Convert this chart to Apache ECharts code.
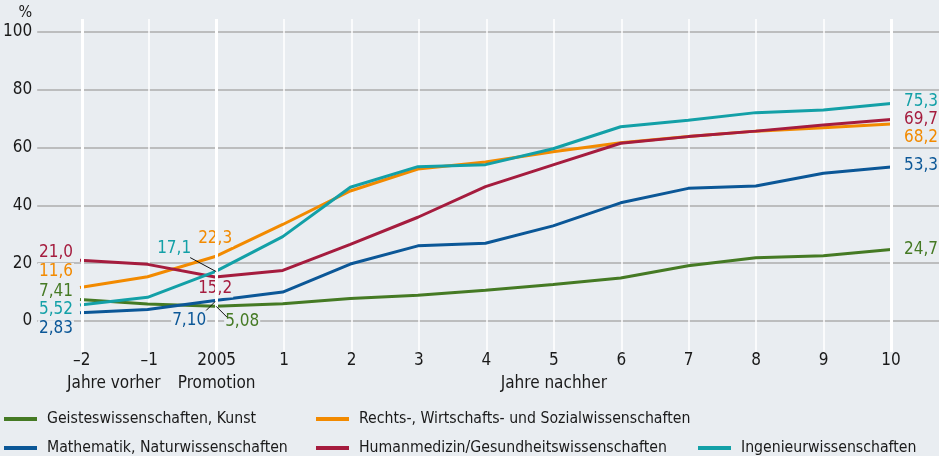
<!DOCTYPE html>
<html>
<head>
<meta charset="utf-8">
<script src="https://cdn.jsdelivr.net/npm/echarts@6.0.0/dist/echarts.min.js"></script>
<style>
  html, body { margin: 0; padding: 0; background: #e9edf1; }
  #chart { width: 939px; height: 456px; }
</style>
</head>
<body>
<div id="chart"></div>
<script>
// Jahre relativ zur Promotion (2005)
const categories = ['–2', '–1', '2005', '1', '2', '3', '4', '5', '6', '7', '8', '9', '10']
const subLabels = { '–2': 'Jahre vorher', '2005': 'Promotion', '5': 'Jahre nachher' }
const yTicks = [0, 20, 40, 60, 80, 100]

// Anteile in %
const geistes = [7.41, 5.9, 5.08, 6.0, 7.8, 8.9, 10.6, 12.6, 14.9, 19.1, 21.9, 22.6, 24.7]
const mathe = [2.83, 4.0, 7.10, 10.0, 19.7, 26.0, 26.9, 32.9, 40.9, 45.9, 46.7, 51.1, 53.3]
const rechts = [11.6, 15.3, 22.3, 33.4, 45.0, 52.6, 55.0, 58.6, 61.7, 63.8, 65.7, 66.9, 68.2]
const human = [21.0, 19.6, 15.2, 17.5, 26.5, 35.9, 46.5, 54.0, 61.5, 63.8, 65.7, 67.8, 69.7]
const ingenieur = [5.52, 8.2, 17.1, 29.2, 46.3, 53.4, 54.1, 59.6, 67.2, 69.5, 72.1, 73.0, 75.3]

const FONT = "'Liberation Sans Narrow', 'DejaVu Sans Condensed', sans-serif"
const BG = '#e9edf1'

// Beschriftungsversatz: links, Mitte (2005), rechts; Legendenposition
const seriesDefs = [
  { name: 'Geisteswissenschaften, Kunst', data: geistes, color: '#457a24', left: -8, mid: [27, 15], right: 0, lg: [4, 411] },
  { name: 'Mathematik, Naturwissenschaften', data: mathe, color: '#0b5797', left: 16, mid: [-26, 20], right: -1, lg: [4, 440] },
  { name: 'Rechts-, Wirtschafts- und Sozialwissenschaften', data: rechts, color: '#f28a00', left: -16, mid: [0, -18], right: 14, lg: [316, 411] },
  { name: 'Humanmedizin/Gesundheitswissenschaften', data: human, color: '#a51c3e', left: -8, mid: [0, 12], right: 0, lg: [316, 440] },
  { name: 'Ingenieurwissenschaften', data: ingenieur, color: '#13a0a7', left: 5, mid: [-41, -23], right: -2, lg: [698, 440] }
]

function fmt (v) {
  return v.toPrecision(3).replace('.', ',')
}

function buildData (def) {
  const last = def.data.length - 1
  return def.data.map((v, i) => {
    const base = { color: def.color, fontFamily: FONT, fontSize: 17, backgroundColor: BG, padding: [0, 1], formatter: fmt(v) }
    if (i === 0) {
      return { value: v, label: Object.assign(base, { show: true, position: 'left', distance: 6, offset: [0, def.left] }) }
    }
    if (i === 2) {
      return { value: v, label: Object.assign(base, { show: true, position: 'inside', offset: def.mid }) }
    }
    if (i === last) {
      return { value: v, label: Object.assign(base, { show: true, position: 'right', distance: 12, offset: [0, def.right] }) }
    }
    return v
  })
}

const myChart = echarts.init(document.getElementById('chart'))

const series = [
  // dicke weiße Linien bei -2, 2005 und 10
  {
    type: 'line',
    xAxisIndex: 0,
    yAxisIndex: 0,
    data: categories.map(() => null),
    silent: true,
    markLine: {
      silent: true,
      symbol: 'none',
      label: { show: false },
      lineStyle: { color: '#ffffff', width: 3, type: 'solid' },
      data: [{ xAxis: '–2' }, { xAxis: '2005' }, { xAxis: '10' }]
    }
  }
]
seriesDefs.forEach((def) => {
  series.push({
    name: def.name,
    type: 'line',
    xAxisIndex: 2,
    yAxisIndex: 2,
    data: buildData(def),
    showSymbol: true,
    symbol: 'circle',
    symbolSize: 0,
    lineStyle: { color: def.color, width: 3 },
    itemStyle: { color: def.color },
    z: 3
  })
})

// eine Legende je Eintrag, damit die Anordnung wie im Original bleibt
const legends = seriesDefs.map((def) => ({
  left: def.lg[0],
  top: def.lg[1],
  padding: 0,
  icon: 'rect',
  itemWidth: 33,
  itemHeight: 4,
  data: [def.name],
  textStyle: { fontFamily: FONT, fontSize: 15.7, color: '#1a1a1a', padding: [0, 0, 0, 5] }
}))

const option = {
  backgroundColor: BG,
  animation: false,
  textStyle: { fontFamily: FONT },
  legend: legends,
  grid: [
    { left: 80, right: 48, top: 19, bottom: 104 },
    { left: 33, right: 0, top: 32, bottom: 135 },
    { left: 80, right: 48, top: 32, bottom: 135 }
  ],
  xAxis: [
    {
      gridIndex: 0,
      type: 'category',
      data: categories,
      boundaryGap: false,
      axisLine: { show: false },
      axisTick: { show: false },
      splitLine: { show: true, lineStyle: { color: '#ffffff', width: 1.5 } },
      axisLabel: {
        margin: -3,
        interval: 0,
        color: '#1a1a1a',
        fontFamily: FONT,
        fontSize: 17,
        lineHeight: 23,
        formatter: (val) => {
          const sub = subLabels[val]
          if (!sub) return val
          if (val === '–2') return val + '\n{shift|' + sub + '}'
          return val + '\n{sub|' + sub + '}'
        },
        rich: {
          sub: { fontFamily: FONT, fontSize: 17, color: '#1a1a1a', lineHeight: 23 },
          shift: { fontFamily: FONT, fontSize: 17, color: '#1a1a1a', lineHeight: 23, padding: [0, 0, 0, 64] }
        }
      }
    },
    { gridIndex: 1, type: 'value', show: false, min: 0, max: 1 },
    { gridIndex: 2, type: 'category', data: categories, boundaryGap: false, show: false }
  ],
  yAxis: [
    { gridIndex: 0, type: 'value', show: false, min: 0, max: 1 },
    {
      gridIndex: 1,
      type: 'value',
      min: yTicks[0],
      max: yTicks[yTicks.length - 1],
      interval: 20,
      name: '%',
      nameLocation: 'end',
      nameGap: 11,
      nameTextStyle: { fontFamily: FONT, fontSize: 16, color: '#1a1a1a', align: 'right', padding: [0, 5, 0, 0] },
      axisLine: { show: false },
      axisTick: { show: false },
      axisLabel: { margin: 5, color: '#1a1a1a', fontFamily: FONT, fontSize: 17 },
      splitLine: { show: true, lineStyle: { color: '#adadad', width: 1.5 } }
    },
    { gridIndex: 2, type: 'value', min: 0, max: 100, show: false }
  ],
  series: series
}

myChart.setOption(option)

// Hinweislinien zu den Beschriftungen in der Mitte
const idx = categories.indexOf('2005')
function px (values) {
  return myChart.convertToPixel({ xAxisIndex: 2, yAxisIndex: 2 }, [idx, values[idx]])
}
const pTeal = px(ingenieur)
const pBlue = px(mathe)
const pGreen = px(geistes)
const leader = { stroke: '#111111', lineWidth: 1 }
myChart.setOption({
  graphic: [
    { type: 'line', z: 10, shape: { x1: pTeal[0] - 25, y1: pTeal[1] - 14, x2: pTeal[0] + 1, y2: pTeal[1] }, style: leader },
    { type: 'line', z: 10, shape: { x1: pBlue[0], y1: pBlue[1] + 1, x2: pBlue[0] - 9, y2: pBlue[1] + 10 }, style: leader },
    { type: 'line', z: 10, shape: { x1: pGreen[0] + 1, y1: pGreen[1], x2: pGreen[0] + 12, y2: pGreen[1] + 11 }, style: leader }
  ]
})
</script>
</body>
</html>
